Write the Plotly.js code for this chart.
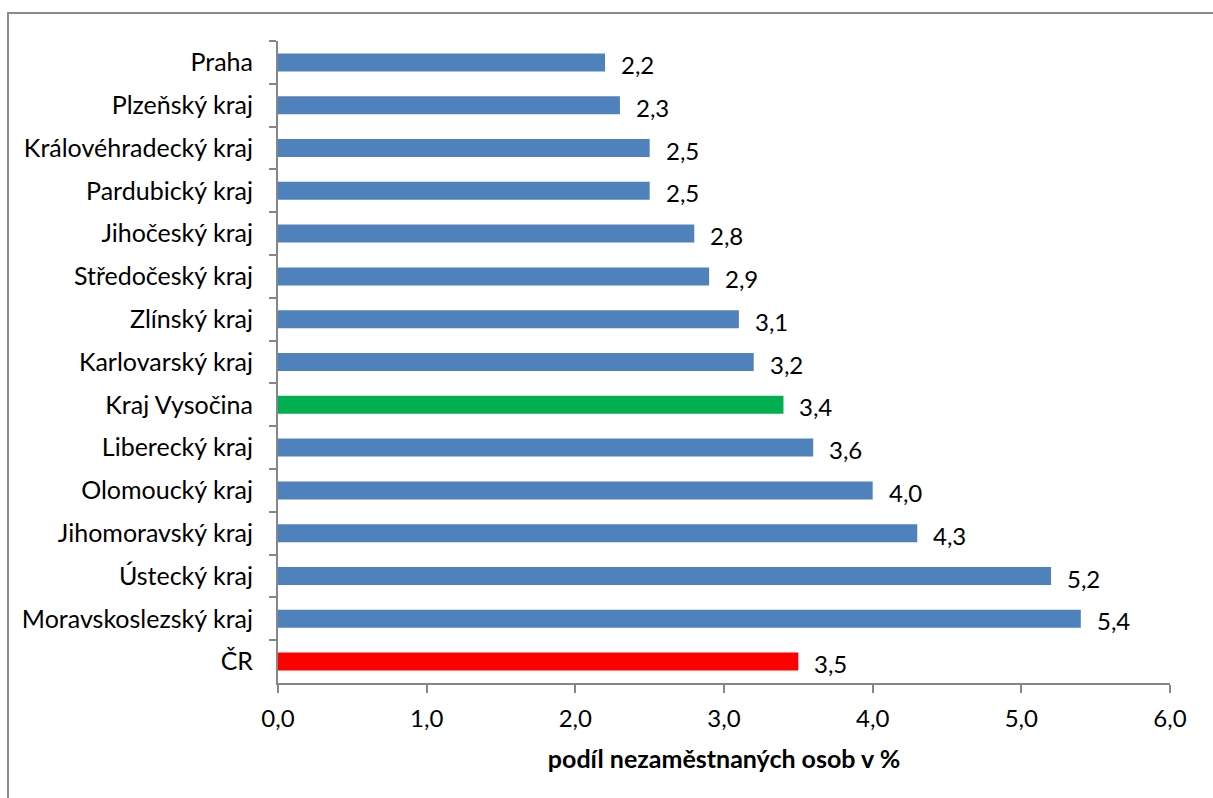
<!DOCTYPE html>
<html>
<head>
<meta charset="utf-8">
<script src="https://cdn.plot.ly/plotly-3.0.1.min.js"></script>
<style>
  html, body { margin: 0; padding: 0; overflow: hidden; background: #fff; }
  #frame { position: absolute; left: 7px; top: 12px; width: 1400px; height: 1000px;
           border: 2px solid #8a8a8a; box-sizing: border-box; pointer-events: none; }
  #chart { position: absolute; left: 0; top: 0; width: 1213px; height: 798px; }
</style>
</head>
<body>
<div id="chart"></div>
<div id="frame"></div>
<script>
const categories = ["Praha", "Plzeňský kraj", "Královéhradecký kraj", "Pardubický kraj",
  "Jihočeský kraj", "Středočeský kraj", "Zlínský kraj", "Karlovarský kraj",
  "Kraj Vysočina", "Liberecký kraj", "Olomoucký kraj", "Jihomoravský kraj",
  "Ústecký kraj", "Moravskoslezský kraj", "ČR"];
const values = [2.2, 2.3, 2.5, 2.5, 2.8, 2.9, 3.1, 3.2, 3.4, 3.6, 4.0, 4.3, 5.2, 5.4, 3.5];
const highlight = { "Kraj Vysočina": "#00B050", "ČR": "#FF0000" };
const baseColor = "#4F81BD";
const axisTitle = "podíl nezaměstnaných osob v %";

const font = "Lato, 'Open Sans', sans-serif";
const colors = categories.map(c => highlight[c] || baseColor);

const trace = {
  type: "bar",
  orientation: "h",
  x: values,
  y: categories,
  marker: { color: colors },
  hoverinfo: "none"
};

const annotations = categories.map((c, i) => ({
  x: values[i], y: c, xref: "x", yref: "y",
  text: values[i].toFixed(1).replace(".", ","),
  showarrow: false, xanchor: "left", yanchor: "middle",
  xshift: 14, yshift: -2,
  font: { family: font, size: 24, color: "#000" }
}));

const layout = {
  width: 1213, height: 798,
  margin: { l: 278, r: 43, t: 41, b: 115 },
  paper_bgcolor: "rgba(0,0,0,0)",
  plot_bgcolor: "rgba(0,0,0,0)",
  separators: ", ",
  bargap: 0.58,
  showlegend: false,
  font: { family: font, size: 24, color: "#000" },
  xaxis: {
    range: [0, 6], dtick: 1, tick0: 0, tickformat: ".1f",
    showgrid: false, zeroline: false,
    showline: true, linecolor: "#868686", linewidth: 2,
    ticks: "outside", ticklen: 8, tickwidth: 2, tickcolor: "#868686",
    ticklabelstandoff: 5,
    tickfont: { family: font, size: 24, color: "#000" },
    title: { text: "<b>" + axisTitle + "</b>", standoff: 20,
             font: { family: font, size: 25, color: "#000" } }
  },
  yaxis: {
    type: "category", categoryorder: "array", categoryarray: categories,
    range: [14.5, -0.5],
    showgrid: false, zeroline: false,
    showline: true, linecolor: "#868686", linewidth: 2,
    ticks: "outside", tickson: "boundaries", ticklen: 7, tickwidth: 2, tickcolor: "#868686",
    ticklabelstandoff: 18,
    tickfont: { family: font, size: 25, color: "#000" }
  },
  annotations: annotations
};

Plotly.newPlot("chart", [trace], layout, { displayModeBar: false, staticPlot: true });
</script>
</body>
</html>
